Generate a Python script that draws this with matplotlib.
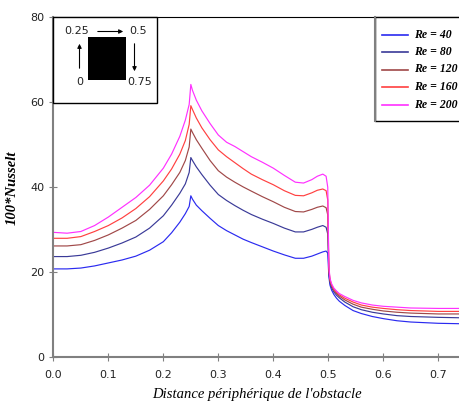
import matplotlib
matplotlib.use("Agg")
import matplotlib.pyplot as plt
from matplotlib.patches import Rectangle

# distance along the obstacle perimeter
x = [0.0, 0.025, 0.05, 0.075, 0.1, 0.125, 0.15, 0.175, 0.2, 0.215, 0.23, 0.24,
     0.247, 0.25, 0.253, 0.26, 0.27, 0.285, 0.3, 0.315, 0.33, 0.345, 0.36,
     0.38, 0.4, 0.42, 0.44, 0.455, 0.47, 0.48, 0.49, 0.496, 0.499, 0.501,
     0.503, 0.506, 0.51, 0.515, 0.52, 0.53, 0.545, 0.56, 0.58, 0.6, 0.625,
     0.65, 0.7, 0.74]

nu_40 = [20.8, 20.8, 21.0, 21.5, 22.2, 22.9, 23.8, 25.2, 27.2, 29.3, 31.8, 33.8,
         35.5, 38.0, 37.2, 35.8, 34.5, 32.7, 31.0, 29.8, 28.8, 27.8, 27.0,
         26.0, 25.0, 24.1, 23.3, 23.3, 23.8, 24.3, 24.8, 25.0, 24.5, 19.0,
         17.0, 15.8, 14.8, 13.9, 13.2, 12.2, 11.0, 10.3, 9.6, 9.1, 8.6,
         8.3, 8.0, 7.9]
nu_80 = [23.7, 23.7, 24.0, 24.7, 25.7, 26.9, 28.3, 30.4, 33.3, 35.8, 38.6, 40.8,
         43.5, 47.0, 46.3, 44.8, 43.0, 40.5, 38.3, 36.9, 35.7, 34.6, 33.6,
         32.5, 31.5, 30.4, 29.5, 29.5, 30.1, 30.6, 31.0, 30.6, 29.0, 20.0,
         17.6, 16.4, 15.4, 14.6, 14.0, 13.0, 11.9, 11.2, 10.6, 10.2, 9.8,
         9.6, 9.4, 9.3]
nu_120 = [26.2, 26.2, 26.5, 27.5, 28.8, 30.4, 32.2, 34.8, 38.0, 40.6, 43.5, 46.3,
          49.5, 53.7, 52.9, 51.2, 49.2, 46.3, 43.9, 42.4, 41.2, 40.1, 39.1,
          37.8, 36.6, 35.3, 34.3, 34.2, 34.8, 35.3, 35.6, 35.2, 33.5, 20.5,
          18.0, 16.8, 15.8, 15.0, 14.4, 13.5, 12.5, 11.8, 11.3, 10.9, 10.6,
          10.4, 10.2, 10.2]
nu_160 = [28.0, 28.0, 28.4, 29.6, 31.0, 32.8, 35.0, 37.8, 41.5, 44.3, 47.8, 51.0,
          54.8, 59.2, 58.3, 56.3, 54.0, 51.2, 48.8, 47.2, 45.8, 44.4, 43.1,
          41.8, 40.6, 39.2, 38.1, 38.0, 38.7, 39.3, 39.6, 39.2, 37.0, 21.0,
          18.3, 17.0, 16.0, 15.3, 14.7, 13.9, 13.0, 12.3, 11.8, 11.5, 11.2,
          11.0, 10.8, 10.8]
nu_200 = [29.4, 29.2, 29.6, 31.0, 33.0, 35.3, 37.6, 40.5, 44.5, 47.8, 52.0, 55.8,
          59.5, 64.2, 62.8, 60.5, 58.0, 55.0, 52.3, 50.6, 49.6, 48.4, 47.2,
          45.9, 44.5, 42.8, 41.2, 41.0, 41.8, 42.6, 43.1, 42.6, 40.0, 21.5,
          18.6, 17.3, 16.3, 15.6, 15.0, 14.3, 13.4, 12.8, 12.3, 12.0, 11.8,
          11.6, 11.5, 11.5]

series = [nu_40, nu_80, nu_120, nu_160, nu_200]
labels = ["Re = 40", "Re = 80", "Re = 120", "Re = 160", "Re = 200"]
colors = ["#2a2af0", "#3a3a98", "#a04848", "#ff4040", "#ff30ff"]

xticks = [0.0, 0.1, 0.2, 0.3, 0.4, 0.5, 0.6, 0.7]
yticks = [0, 20, 40, 60, 80]

fig = plt.figure(figsize=(4.6, 4.03), dpi=100)
ax = fig.add_axes([0.116, 0.1134, 0.884, 0.8437])

lines = []
for vals, lab, col in zip(series, labels, colors):
    ln, = ax.plot(x, vals, color=col, lw=0.85, label=lab)
    lines.append(ln)

ax.set_xlim(0, 0.7395)
ax.set_ylim(0, 80)
ax.set_xticks(xticks)
ax.set_xticklabels([f"{t:.1f}" for t in xticks])
ax.set_yticks(yticks)
ax.tick_params(direction="inout", length=6, color="#808080", labelsize=8,
               labelcolor="#222222")
ax.tick_params(axis="x", pad=6)
for s in ["left", "bottom"]:
    ax.spines[s].set_color("#808080")
    ax.spines[s].set_linewidth(1.5)
ax.spines["right"].set_visible(False)
ax.spines["top"].set_color("black")

ax.set_xlabel("Distance périphérique de l'obstacle", family="Liberation Serif",
              style="italic", fontsize=10.5, labelpad=6)
ax.set_ylabel("100*Nusselt", family="Liberation Serif", style="italic",
              weight="bold", fontsize=10.5, labelpad=8)

# overlay in pixel coordinates for the sketch and the legend box
ov = fig.add_axes([0, 0, 1, 1], zorder=5)
ov.set_xlim(0, 460)
ov.set_ylim(403, 0)
ov.axis("off")

# obstacle sketch
ov.add_patch(Rectangle((53, 17), 104, 86, facecolor="white", edgecolor="black", lw=1))
ov.add_patch(Rectangle((88, 37), 38, 43, facecolor="black"))
kw = dict(fontsize=8, color="#222222", ha="center", va="center")
ov.text(77, 31.5, "0.25", **kw)
ov.text(138, 31.5, "0.5", **kw)
ov.text(80, 82, "0", **kw)
ov.text(140, 82, "0.75", **kw)
arr = dict(arrowstyle="-|>", color="black", lw=0.8, mutation_scale=6)
ov.annotate("", xy=(126, 31.5), xytext=(95, 31.5), arrowprops=arr)
ov.annotate("", xy=(79.5, 41), xytext=(79.5, 71), arrowprops=arr)
ov.annotate("", xy=(134.5, 74), xytext=(134.5, 41), arrowprops=arr)

# legend box
ov.add_patch(Rectangle((375, 17), 90, 103.5, facecolor="white", edgecolor="black", lw=1))
ov.plot([375, 375], [17, 120.5], color="#808080", lw=1.5)
for i, ln in enumerate(lines):
    yy = 34.5 + i * 17.5
    ov.plot([382, 408], [yy, yy], color=ln.get_color(), lw=1.2)
    ov.text(414, yy, ln.get_label(), family="Liberation Serif", style="italic",
            weight="bold", fontsize=8.5, ha="left", va="center")

fig.savefig("out.png", dpi=100)
